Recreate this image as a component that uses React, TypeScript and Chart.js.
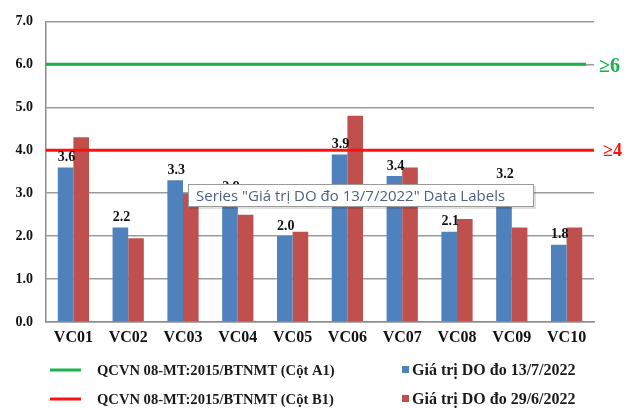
import React, { useEffect, useRef } from "react";
import { Chart, registerables } from "chart.js";

Chart.register(...registerables);

const categories = ["VC01", "VC02", "VC03", "VC04", "VC05", "VC06", "VC07", "VC08", "VC09", "VC10"];
const doJuly = [3.6, 2.2, 3.3, 2.9, 2.0, 3.9, 3.4, 2.1, 3.2, 1.8];
const doJune = [4.3, 1.95, 3.0, 2.5, 2.1, 4.8, 3.6, 2.4, 2.2, 2.2];
const limitA1 = 6;
const limitB1 = 4;
const yTicks = [0, 1, 2, 3, 4, 5, 6, 7];
const labelJuly = "Giá trị DO đo 13/7/2022";
const labelJune = "Giá trị DO đo 29/6/2022";
const labelA1 = "QCVN 08-MT:2015/BTNMT (Cột A1)";
const labelB1 = "QCVN 08-MT:2015/BTNMT (Cột B1)";
const limitTextA1 = "≥6";
const limitTextB1 = "≥4";
const hoverText = 'Series "Giá trị DO đo 13/7/2022" Data Labels';

const BLUE = "#4F81BD";
const RED = "#C0504D";
const GREEN = "#19B24B";
const LRED = "#FF1010";
const SERIF = "'Liberation Serif', 'Times New Roman', serif";

const limits = [
  { value: limitA1, label: labelA1, color: GREEN, text: limitTextA1, font: 20, dx: 5, dy: 2 },
  { value: limitB1, label: labelB1, color: LRED, text: limitTextB1, font: 18, dx: 9, dy: 1 },
];

const overlayPlugin = {
  id: "overlay",
  afterDatasetsDraw(chart: any) {
    const ctx = chart.ctx;
    const y = chart.scales.y;
    const { left, right } = chart.chartArea;
    ctx.save();
    limits.forEach((l) => {
      const py = y.getPixelForValue(l.value);
      ctx.strokeStyle = l.color;
      ctx.lineWidth = 3;
      ctx.beginPath();
      ctx.moveTo(left, py);
      ctx.lineTo(right - (l.value === limitA1 ? 8 : 0), py);
      ctx.stroke();
    });
    const meta = chart.getDatasetMeta(0);
    ctx.font = `bold 14px ${SERIF}`;
    ctx.fillStyle = "#111";
    ctx.textAlign = "center";
    ctx.textBaseline = "bottom";
    meta.data.forEach((bar: any, i: number) => {
      ctx.fillText(doJuly[i].toFixed(1), bar.x + 1, bar.y - 3);
    });
    ctx.textAlign = "left";
    ctx.textBaseline = "middle";
    limits.forEach((l) => {
      ctx.font = `bold ${l.font}px ${SERIF}`;
      ctx.fillStyle = l.color;
      ctx.fillText(l.text, right + l.dx, y.getPixelForValue(l.value) + l.dy);
    });
    ctx.restore();
  },
  afterDraw(chart: any) {
    const ctx = chart.ctx;
    ctx.save();
    const ds = chart.data.datasets;
    ctx.textBaseline = "middle";
    ctx.textAlign = "left";
    const rows = [370, 399];
    limits.forEach((l, r) => {
      ctx.strokeStyle = l.color;
      ctx.lineWidth = 3;
      ctx.beginPath();
      ctx.moveTo(50, rows[r]);
      ctx.lineTo(81, rows[r]);
      ctx.stroke();
      ctx.fillStyle = "#1a1a1a";
      ctx.font = `bold 14.6px ${SERIF}`;
      ctx.fillText(l.label, 97, rows[r] + 1);
    });
    [0, 1].forEach((di, r) => {
      ctx.fillStyle = ds[di].backgroundColor;
      ctx.fillRect(402, rows[r] - 4, 7, 7);
      ctx.fillStyle = "#1a1a1a";
      ctx.font = `bold 16px ${SERIF}`;
      ctx.fillText(ds[di].label, 412, rows[r] + 1);
    });
    const bx = 188, by = 184, bw = 346, bh = 23;
    ctx.fillStyle = "rgba(0,0,0,0.12)";
    ctx.fillRect(bx + 2, by + 2, bw, bh);
    ctx.fillStyle = "#ffffff";
    ctx.fillRect(bx, by, bw, bh);
    ctx.strokeStyle = "#9a9a9a";
    ctx.lineWidth = 1;
    ctx.strokeRect(bx + 0.5, by + 0.5, bw - 1, bh - 1);
    ctx.fillStyle = "#4e5f80";
    ctx.font = `15px 'Open Sans', 'Noto Sans', sans-serif`;
    ctx.fillText(hoverText, bx + 8, by + bh / 2 + 1);
    ctx.restore();
  },
};

export default function App() {
  const ref = useRef<HTMLCanvasElement>(null);
  useEffect(() => {
    document.body.style.margin = "0";
    const chart = new Chart(ref.current as HTMLCanvasElement, {
      type: "bar",
      data: {
        labels: categories,
        datasets: [
          { label: labelJuly, data: doJuly, backgroundColor: BLUE, categoryPercentage: 0.57, barPercentage: 1.0 } as any,
          { label: labelJune, data: doJune, backgroundColor: RED, categoryPercentage: 0.57, barPercentage: 1.0 } as any,
        ],
      },
      options: {
        animation: false,
        responsive: false,
        layout: { padding: { left: 0, right: 33, top: 21, bottom: 0 } },
        plugins: { legend: { display: false }, tooltip: { enabled: false } },
        scales: {
          x: {
            type: "category",
            grid: { display: false, drawTicks: false },
            border: { color: "#8c8c8c", width: 1.5 },
            ticks: { color: "#111", font: { family: SERIF, size: 16, weight: "bold" }, padding: 6 },
            afterFit: (s: any) => { s.height = 86; },
          },
          y: {
            min: 0, max: 7,
            afterBuildTicks: (s: any) => { s.ticks = yTicks.map((v) => ({ value: v })); },
            grid: { color: "#9c9c9c", lineWidth: 1.5, drawTicks: false },
            border: { color: "#8c8c8c", width: 1.5 },
            ticks: { color: "#111", font: { family: SERIF, size: 14, weight: "bold" }, padding: 13, callback: (v: any) => Number(v).toFixed(1) },
            afterFit: (s: any) => { s.width = 46; },
          },
        },
      },
      plugins: [overlayPlugin],
    });
    return () => chart.destroy();
  }, []);
  return (
    <div style={{ width: 627, height: 408, background: "#fff" }}>
      <canvas ref={ref} width={627} height={408} />
    </div>
  );
}
